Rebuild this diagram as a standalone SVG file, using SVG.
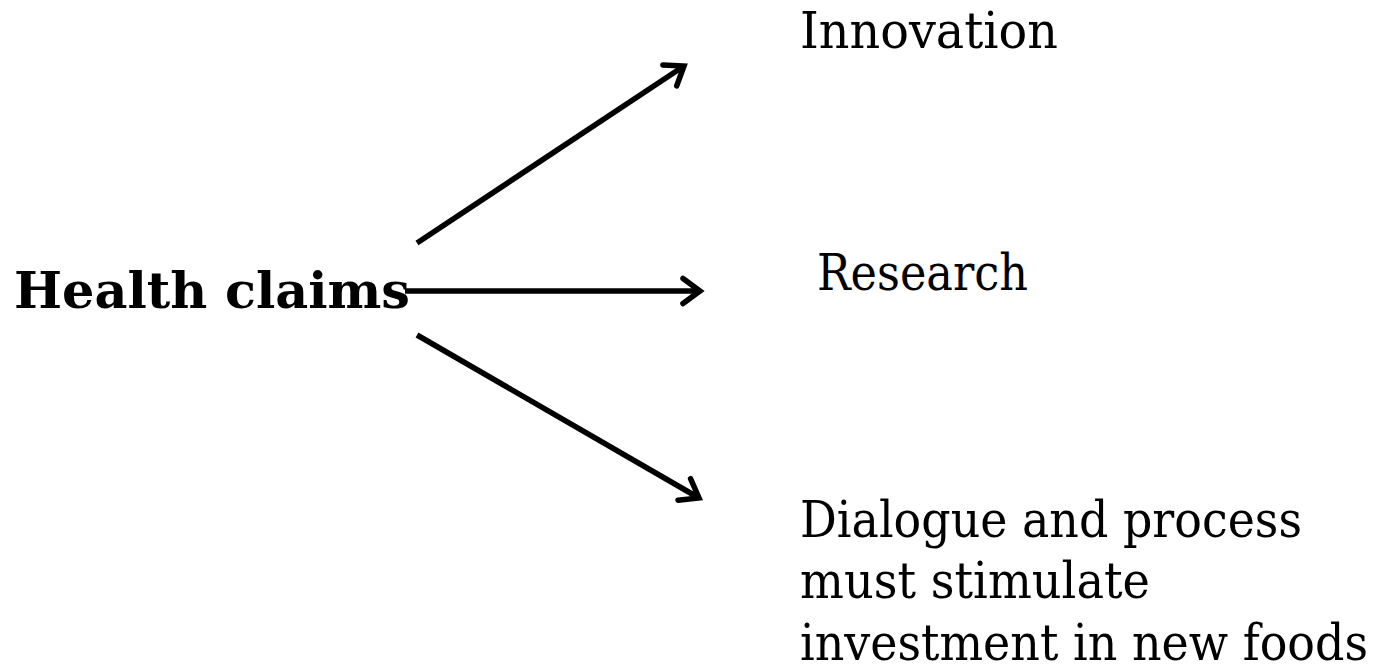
<svg xmlns="http://www.w3.org/2000/svg" width="1383" height="666" viewBox="0 0 1383 666">
<style>
.t{font-family:"DejaVu Serif","Liberation Serif",serif;font-size:51px;fill:#000}
.b{font-weight:bold}
.c{stroke:#000;stroke-width:5.5;fill:none}
</style>
<defs>
<marker id="ah" markerUnits="userSpaceOnUse" markerWidth="40" markerHeight="40" viewBox="-30 -20 40 40" refX="0" refY="0" orient="auto">
<path d="M-17,-12.5 L0,0 L-17,12.5" fill="none" stroke="#000" stroke-width="5.5" stroke-linecap="round" stroke-linejoin="miter"/>
</marker>
</defs>
<rect width="1383" height="666" fill="#fff"/>
<g id="health-claims"><text class="t b" x="14" y="308" textLength="396" lengthAdjust="spacingAndGlyphs">Health claims</text></g>
<g id="innovation"><text class="t" x="800" y="48" textLength="258" lengthAdjust="spacingAndGlyphs">Innovation</text></g>
<g id="research"><text class="t" x="817" y="290" textLength="211" lengthAdjust="spacingAndGlyphs">Research</text></g>
<g id="dialogue">
<text class="t" x="800" y="537" textLength="502" lengthAdjust="spacingAndGlyphs">Dialogue and process</text>
<text class="t" x="800" y="598" textLength="350" lengthAdjust="spacingAndGlyphs">must stimulate</text>
<text class="t" x="800" y="660" textLength="568" lengthAdjust="spacingAndGlyphs">investment in new foods</text>
</g>
<g id="connectors">
<line class="c" x1="417" y1="243" x2="684" y2="66" marker-end="url(#ah)"/>
<line class="c" x1="405" y1="291" x2="700" y2="291" marker-end="url(#ah)"/>
<line class="c" x1="417" y1="335" x2="699" y2="498" marker-end="url(#ah)"/>
</g>
</svg>
